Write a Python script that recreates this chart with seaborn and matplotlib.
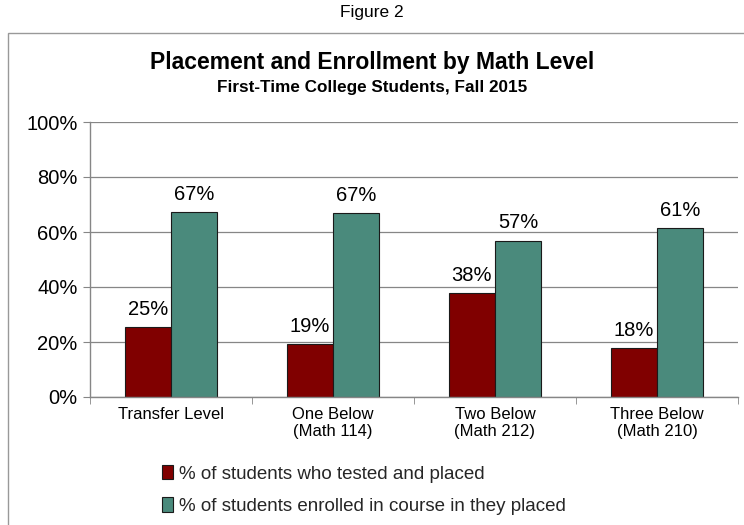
import matplotlib
matplotlib.use("Agg")
import matplotlib.pyplot as plt
import matplotlib.patches as mpatches
import seaborn as sns
import pandas as pd

# ─── Data ────────────────────────────────────────────────────────────────────
categories = ["Transfer Level", "One Below\n(Math 114)", "Two Below\n(Math 212)", "Three Below\n(Math 210)"]
placed = [25.5, 19.3, 37.8, 17.7]
enrolled = [67.3, 66.8, 56.8, 61.5]
placed_labels = ["25%", "19%", "38%", "18%"]
enrolled_labels = ["67%", "67%", "57%", "61%"]
series_names = ["% of students who tested and placed",
                "% of students enrolled in course in they placed"]

RED = "#800000"
TEAL = "#4A8A7C"
GRID_C = "#868686"
TEXT_C = "#000000"

df = pd.DataFrame({
    "Level": categories * 2,
    "Pct": placed + enrolled,
    "Series": [series_names[0]] * 4 + [series_names[1]] * 4,
})

sns.set_style("white")
plt.rcParams["font.family"] = ["Liberation Sans", "DejaVu Sans"]

fig = plt.figure(figsize=(7.44, 5.25), dpi=100)
fig.patch.set_facecolor("white")
ax = fig.add_axes([90 / 744, 1 - 397 / 525, 648 / 744, 275 / 525])

sns.barplot(data=df, x="Level", y="Pct", hue="Series", order=categories,
            hue_order=series_names, palette=[RED, TEAL], width=0.57, saturation=1,
            edgecolor="#1a1a1a", linewidth=0.8, ax=ax, legend=False)

# data labels
for container, labels in zip(ax.containers, [placed_labels, enrolled_labels]):
    ax.bar_label(container, labels=labels, padding=6, fontsize=14.5, color=TEXT_C)

ax.set_ylim(0, 100)
ax.set_xlim(-0.5, 3.5)
ax.set_yticks(range(0, 101, 20))
ax.set_yticklabels([f"{v}%" for v in range(0, 101, 20)], fontsize=14.5, color=TEXT_C)
ax.yaxis.grid(True, color=GRID_C, linewidth=0.9)
ax.set_axisbelow(True)
ax.set_xlabel("")
ax.set_ylabel("")
ax.tick_params(axis="x", length=0, labelsize=12, colors=TEXT_C, pad=7)
ax.tick_params(axis="y", length=5, color=GRID_C, direction="out", left=True, pad=4)
ax.set_xticks([-0.5, 0.5, 1.5, 2.5, 3.5], minor=True)
ax.tick_params(axis="x", which="minor", length=5, color=GRID_C, direction="out", bottom=True)
for s in ["top", "right"]:
    ax.spines[s].set_visible(False)
for s in ["left", "bottom"]:
    ax.spines[s].set_color(GRID_C)
    ax.spines[s].set_linewidth(1)

# outer chart frame
fig.patches.append(mpatches.Rectangle((8 / 744, -0.1), 1.2, 1 - 33 / 525 + 0.1,
                                      transform=fig.transFigure, fill=False,
                                      edgecolor="#999999", linewidth=1, zorder=0))

fig.text(0.5, 1 - 12 / 525, "Figure 2", ha="center", va="center", fontsize=12.5, color=TEXT_C)
fig.text(0.5, 1 - 62 / 525, "Placement and Enrollment by Math Level", ha="center",
         va="center", fontsize=16.5, fontweight="bold", color=TEXT_C)
fig.text(0.5, 1 - 88 / 525, "First-Time College Students, Fall 2015", ha="center",
         va="center", fontsize=12.3, fontweight="bold", color=TEXT_C)

handles = [mpatches.Patch(facecolor=c, edgecolor="#1a1a1a", linewidth=0.8) for c in [RED, TEAL]]
fig.legend(handles, series_names, loc="upper left", bbox_to_anchor=(162 / 744, 1 - 465 / 525),
           frameon=False, fontsize=13.5, handlelength=0.6, handleheight=0.8,
           handletextpad=0.3, labelspacing=0.78, borderaxespad=0, borderpad=0)

fig.savefig("out.png", dpi=100, facecolor="white")
